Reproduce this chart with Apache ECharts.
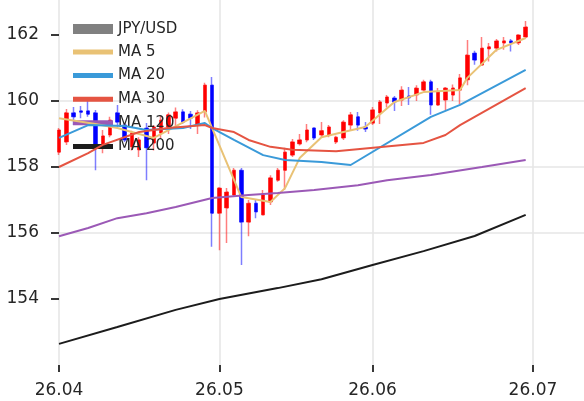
<!DOCTYPE html>
<html>
<head>
<meta charset="utf-8">
<script src="https://cdn.jsdelivr.net/npm/echarts@6/dist/echarts.min.js"></script>
<style>
html,body{margin:0;padding:0;background:#fff;}
#chart{width:584px;height:401px;}
</style>
</head>
<body>
<div id="chart"></div>
<script>
// Trading days (plus a few future weekdays that extend the axis)
var dates = [
'2026-04-01','2026-04-02','2026-04-03','2026-04-06','2026-04-07','2026-04-08','2026-04-09','2026-04-10',
'2026-04-13','2026-04-14','2026-04-15','2026-04-16','2026-04-17','2026-04-20','2026-04-21','2026-04-22',
'2026-04-23','2026-04-24','2026-04-27','2026-04-28','2026-04-29','2026-04-30',
'2026-05-01','2026-05-04','2026-05-05','2026-05-06','2026-05-07','2026-05-08','2026-05-11','2026-05-12',
'2026-05-13','2026-05-14','2026-05-15','2026-05-18','2026-05-19','2026-05-20','2026-05-21','2026-05-22',
'2026-05-25','2026-05-26','2026-05-27','2026-05-28','2026-05-29',
'2026-06-01','2026-06-02','2026-06-03','2026-06-04','2026-06-05','2026-06-08','2026-06-09','2026-06-10',
'2026-06-11','2026-06-12','2026-06-15','2026-06-16','2026-06-17','2026-06-18','2026-06-19','2026-06-22',
'2026-06-23','2026-06-24','2026-06-25','2026-06-26','2026-06-29','2026-06-30',
'2026-07-01','2026-07-02','2026-07-03','2026-07-06','2026-07-07','2026-07-08','2026-07-09','2026-07-10'
];
var tickDates  = ['2026-04-01','2026-05-01','2026-06-01','2026-07-01'];
var tickLabels = ['26.04','26.05','26.06','26.07'];
var yTicks = [154,156,158,160,162];

var opens = [158.45,158.76,159.64,159.70,159.70,159.64,158.58,158.97,159.64,159.27,
             158.61,158.52,159.18,158.73,159.03,159.21,159.48,159.67,159.60,159.27,
             159.67,160.48,156.60,156.76,157.15,157.90,156.33,156.90,156.55,156.94,
             157.60,157.90,158.36,158.70,158.82,159.18,158.97,158.97,158.76,158.88,
             159.27,159.52,159.21,159.33,159.64,159.94,160.09,160.03,160.15,160.18,
             160.33,160.58,159.88,160.03,160.18,160.33,160.64,161.45,161.09,161.58,
             161.60,161.76,161.82,161.76,161.94];
var closes = [159.12,159.64,159.52,159.66,159.60,158.58,158.94,159.42,159.36,158.82,
              159.03,158.82,158.58,159.21,159.42,159.58,159.67,159.36,159.48,159.64,
              160.48,156.60,157.36,157.24,157.90,156.33,156.90,156.64,157.15,157.67,
              157.90,158.45,158.76,158.82,159.12,158.88,159.10,159.21,158.90,159.36,
              159.58,159.27,159.15,159.73,159.97,160.12,159.97,160.33,160.10,160.39,
              160.58,159.88,160.27,160.39,160.39,160.70,161.39,161.24,161.60,161.64,
              161.82,161.82,161.76,162.00,162.24];
var lows   = [158.36,158.67,159.27,159.48,159.52,157.90,158.42,158.90,159.21,158.76,
              158.50,158.30,157.60,158.50,158.85,159.00,159.20,159.30,159.15,159.00,
              159.50,155.58,155.48,155.70,157.10,155.03,155.90,156.45,156.55,156.85,
              157.55,157.30,158.30,158.65,158.75,158.82,158.88,158.90,158.70,158.82,
              159.10,159.10,159.06,159.27,159.30,159.80,159.70,159.85,159.88,160.00,
              160.30,159.58,159.85,159.73,160.00,159.90,160.48,161.10,161.09,161.20,
              161.50,161.55,161.50,161.70,161.90];
var highs  = [159.18,159.76,159.82,159.85,160.03,159.73,159.12,159.52,159.88,159.33,
              159.10,158.90,159.33,159.27,159.55,159.65,159.80,159.75,159.70,159.72,
              160.55,160.73,157.36,157.36,157.97,157.97,157.00,157.00,157.30,157.75,
              157.97,158.58,158.85,159.00,159.30,159.18,159.36,159.27,158.95,159.42,
              159.67,159.67,159.36,159.82,160.03,160.18,160.15,160.45,160.42,160.48,
              160.64,160.64,160.39,160.42,160.50,160.82,161.85,161.52,161.94,161.76,
              161.88,161.94,161.88,162.00,162.42];

// Moving averages: [trading-day index, value]
var ma5   = [[0,159.48],[5,159.30],[8,159.18],[13,158.88],[20,159.70],[25,157.09],[29,156.94],[31,157.36],
             [33,158.27],[36,158.90],[39,159.06],[42,159.21],[46,159.97],[50,160.27],[55,160.33],[56,160.70],
             [60,161.55],[64,161.91]];
var ma20  = [[0,158.88],[4,159.27],[9,159.24],[12,159.12],[17,159.18],[20,159.33],[21,159.18],[24,158.82],
             [28,158.36],[31,158.21],[36,158.15],[40,158.06],[51,159.52],[55,159.88],[64,160.94]];
var ma30  = [[0,158.00],[4,158.42],[6,158.67],[11,159.06],[15,159.18],[20,159.27],[21,159.18],[24,159.06],
             [26,158.82],[29,158.61],[32,158.52],[38,158.48],[50,158.73],[53,158.97],[55,159.27],[64,160.39]];
var ma120 = [[0,155.90],[4,156.15],[8,156.45],[12,156.60],[16,156.79],[21,157.06],[26,157.15],[30,157.21],
             [35,157.30],[41,157.45],[45,157.60],[51,157.76],[58,158.00],[64,158.21]];
var ma200 = [[0,152.64],[8,153.15],[16,153.67],[22,154.00],[30,154.33],[36,154.60],[43,155.03],[50,155.45],
             [57,155.91],[64,156.55]];

var wickData = opens.map(function(o,i){ return [o, closes[i], lows[i], highs[i]]; });
var bodyData = opens.map(function(o,i){ return [o, closes[i], Math.min(o,closes[i]), Math.max(o,closes[i])]; });

var gridColor = '#e6e6e6';
var textColor = '#262626';
var isTick = function(idx, val){ return tickDates.indexOf(val) >= 0; };

var chart = echarts.init(document.getElementById('chart'), null, {renderer:'canvas'});
chart.setOption({
  animation:false,
  backgroundColor:'#ffffff',
  grid:{left:59, right:-2, top:0, bottom:36, containLabel:false},
  xAxis:{
    type:'category', data:dates, boundaryGap:false,
    axisLine:{show:false},
    axisTick:{show:true, interval:isTick, length:7, lineStyle:{color:'#222', width:1.8}},
    splitLine:{show:true, interval:isTick, lineStyle:{color:gridColor, width:1.6}},
    axisLabel:{interval:isTick, margin:17, fontSize:17, color:textColor, fontFamily:'DejaVu Sans',
      formatter:function(v){ var k = tickDates.indexOf(v); return k>=0 ? tickLabels[k] : ''; }}
  },
  yAxis:{
    type:'value', min:152, max:163.06, interval:2,
    axisLine:{show:false},
    axisTick:{show:true, length:8, customValues:yTicks, lineStyle:{color:'#222', width:1.8}},
    splitLine:{show:true, showMinLine:false, showMaxLine:false, lineStyle:{color:gridColor, width:1.6}},
    axisLabel:{margin:20, fontSize:17, color:textColor, fontFamily:'DejaVu Sans', customValues:yTicks}
  },
  legend:[{
    left:68, top:15, orient:'vertical', itemWidth:40, itemHeight:10,
    textStyle:{fontSize:15, color:textColor, fontFamily:'DejaVu Sans', lineHeight:18},
    data:[{name:'JPY/USD', icon:'rect', itemStyle:{color:'#808080', borderWidth:0}}]
  },{
    left:68, top:38, orient:'vertical', itemWidth:40, itemHeight:5, itemGap:5.6,
    textStyle:{fontSize:15, color:textColor, fontFamily:'DejaVu Sans', lineHeight:18},
    data:[{name:'MA 5', icon:'rect'},{name:'MA 20', icon:'rect'},{name:'MA 30', icon:'rect'},
          {name:'MA 120', icon:'rect'},{name:'MA 200', icon:'rect'}]
  }],
  series:[
    {name:'JPY/USD', type:'candlestick', data:wickData, barWidth:1.5, z:2,
     itemStyle:{color:'rgba(255,40,40,0.6)', color0:'rgba(40,40,255,0.6)',
                borderColor:'rgba(255,40,40,0.6)', borderColor0:'rgba(40,40,255,0.6)', borderWidth:1.5}},
    {name:'JPY/USD', type:'candlestick', data:bodyData, barWidth:4, z:3,
     itemStyle:{color:'#ff0000', color0:'#0000ff', borderColor:'#ff0000', borderColor0:'#0000ff', borderWidth:0.5}},
    {name:'MA 5', type:'line', data:ma5, symbol:'none', z:4, color:'#E9C275', lineStyle:{width:2, color:'#E9C275'}},
    {name:'MA 20', type:'line', data:ma20, symbol:'none', z:4, color:'#3A9AD9', lineStyle:{width:2, color:'#3A9AD9'}},
    {name:'MA 30', type:'line', data:ma30, symbol:'none', z:4, color:'#E55442', lineStyle:{width:2, color:'#E55442'}},
    {name:'MA 120', type:'line', data:ma120, symbol:'none', z:4, color:'#9B59B6', lineStyle:{width:2, color:'#9B59B6'}},
    {name:'MA 200', type:'line', data:ma200, symbol:'none', z:4, color:'#1C1C1C', lineStyle:{width:2, color:'#1C1C1C'}}
  ]
});
</script>
</body>
</html>
